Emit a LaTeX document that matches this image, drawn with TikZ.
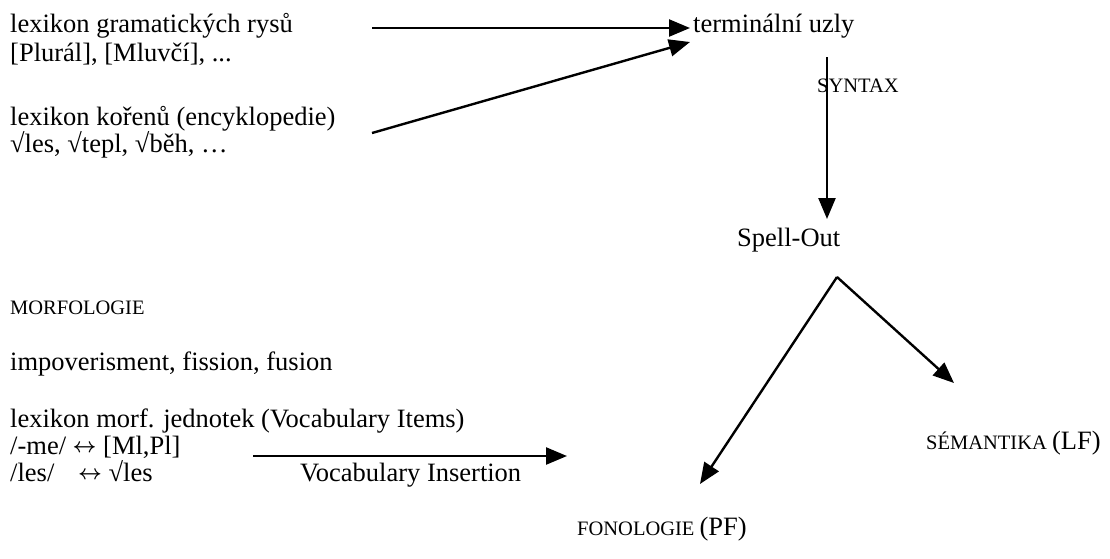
\documentclass[tikz,border=0pt]{standalone}
\usepackage{fontspec}
\setmainfont{Liberation Serif}
\usetikzlibrary{arrows.meta}
\newcommand{\bigsz}{\fontsize{26.5}{30}\selectfont}
\newcommand{\smsz}{\fontsize{20.5}{24}\selectfont}
\newcommand{\lrarr}{\raisebox{1.5pt}{\fontsize{20}{22}\selectfont\boldmath$\leftrightarrow$}}
\begin{document}
\begin{tikzpicture}[x=1pt,y=-1pt,
  txt/.style={font=\bigsz, inner sep=0pt, anchor=base west},
  sm/.style={font=\smsz, inner sep=0pt, anchor=base west},
  arr/.style={line width=2.4pt, -{Triangle[length=21pt,width=17pt]}}]
\useasboundingbox (0,0) rectangle (1110,558);
% left column
\node[txt] (gram1) at (10,32) {lexikon gramatických rysů};
\node[txt] (gram2) at (10,61) {[Plurál], [Mluvčí], ...};
\node[txt] (kor1) at (10,125) {lexikon kořenů (encyklopedie)};
\node[txt] (kor2) at (10,152) {√les, √tepl, √běh, …};
\node[sm] (morf) at (10,314) {MORFOLOGIE};
\node[txt] (impov) at (10,370) {impoverisment, fission, fusion};
\node[txt] (vi1) at (10,427) {lexikon morf. jednotek (Vocabulary Items)};
\node[txt] (vi2) at (10,454) {/-me/ \lrarr{} [Ml,Pl]};
\node[txt] (vi3) at (10,481) {/les/\hspace{0.9em}\lrarr{} √les};
\node[txt] (vins) at (300,481) {Vocabulary Insertion};
% right part
\node[txt] (term) at (693,32) {terminální uzly};
\node[sm] (syn) at (817,92) {SYNTAX};
\node[txt] (spell) at (737,246) {Spell-Out};
\node[inner sep=0pt, anchor=base west] (sem) at (926,449) {\smsz SÉMANTIKA \bigsz(LF)};
\node[inner sep=0pt, anchor=base west] (fon) at (577,535) {\smsz FONOLOGIE \bigsz(PF)};
% connector ends
\coordinate (a1s) at (372,28);
\coordinate (a1e) at (690,28);
\coordinate (a2s) at (372,133);
\coordinate (a2e) at (690,42);
\coordinate (a3s) at (827,57);
\coordinate (a3e) at (827,219);
\coordinate (apex) at (837,277);
\coordinate (semtip) at (954,383);
\coordinate (fontip) at (700,484);
\coordinate (visS) at (253,456);
\coordinate (visE) at (567,456);
\draw[arr] (a1s) -- (a1e);
\draw[arr] (a2s) -- (a2e);
\draw[arr] (a3s) -- (a3e);
\draw[arr] (apex) -- (semtip);
\draw[arr] (apex) -- (fontip);
\draw[arr] (visS) -- (visE);
\end{tikzpicture}
\end{document}
